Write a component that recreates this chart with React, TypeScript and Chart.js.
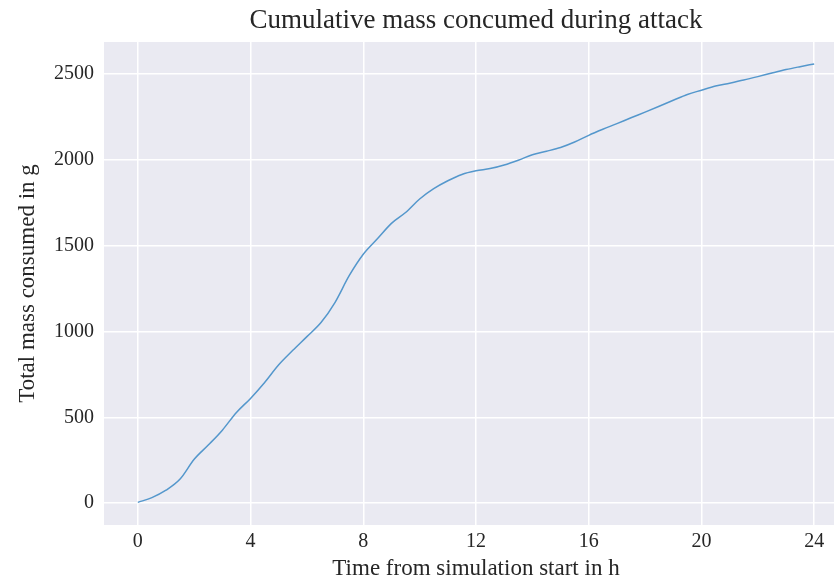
import React, { useEffect, useRef } from "react";
import { Chart, registerables } from "chart.js";

Chart.register(...registerables);

const TITLE = "Cumulative mass concumed during attack";
const X_LABEL = "Time from simulation start in h";
const Y_LABEL = "Total mass consumed in g";

const TIME_H = [
  0, 0.5, 1, 1.5, 2, 2.5, 3, 3.5, 4, 4.5, 5, 5.5, 6, 6.5, 7, 7.5, 8, 8.5, 9, 9.5,
  10, 10.5, 11, 11.5, 12, 12.5, 13, 13.5, 14, 14.5, 15, 15.5, 16, 16.5, 17, 17.5,
  18, 18.5, 19, 19.5, 20, 20.5, 21, 21.5, 22, 22.5, 23, 23.5, 24,
];
const MASS_G = [
  4, 32, 75, 140, 255, 338, 425, 528, 610, 703, 806, 890, 970, 1052, 1170, 1325,
  1450, 1540, 1630, 1693, 1772, 1832, 1878, 1915, 1936, 1949, 1970, 1998, 2030,
  2050, 2072, 2104, 2143, 2178, 2211, 2245, 2278, 2312, 2347, 2381, 2406, 2430,
  2447, 2465, 2485, 2506, 2526, 2543, 2559,
];
const X_TICKS = [0, 4, 8, 12, 16, 20, 24];
const Y_TICKS = [0, 500, 1000, 1500, 2000, 2500];

const FONT = "'Liberation Serif', 'Times New Roman', serif";
const TEXT_COLOR = "#262626";

const plotBg = {
  id: "plotBg",
  beforeDraw(chart: any) {
    const { ctx, chartArea } = chart;
    ctx.save();
    ctx.fillStyle = "#EAEAF2";
    ctx.fillRect(chartArea.left, chartArea.top, chartArea.right - chartArea.left, chartArea.bottom - chartArea.top);
    ctx.restore();
  },
};

export default function App() {
  const ref = useRef<HTMLCanvasElement | null>(null);

  useEffect(() => {
    if (!ref.current) return;
    const xMin = Math.min(...TIME_H);
    const xMax = Math.max(...TIME_H);
    const yMin = Math.min(...MASS_G);
    const yMax = Math.max(...MASS_G);
    const xm = (xMax - xMin) * 0.05;
    const ym = (yMax - yMin) * 0.05;

    const chart = new Chart(ref.current, {
      type: "line",
      data: {
        datasets: [
          {
            data: TIME_H.map((t, i) => ({ x: t, y: MASS_G[i] })),
            borderColor: "#5497cc",
            borderWidth: 1.5,
            pointRadius: 0,
            cubicInterpolationMode: "monotone",
            fill: false,
          },
        ],
      },
      options: {
        animation: false,
        responsive: false,
        devicePixelRatio: 1,
        layout: { padding: { left: 0, right: 0, top: 0, bottom: 0 } },
        plugins: {
          legend: { display: false },
          tooltip: { enabled: false },
          title: {
            display: true,
            text: TITLE,
            fullSize: false,
            color: TEXT_COLOR,
            font: { family: FONT, size: 27, weight: "normal", lineHeight: 1 },
            padding: { top: 7, bottom: 8 },
          },
        },
        scales: {
          x: {
            type: "linear",
            min: xMin - xm,
            max: xMax + xm,
            afterBuildTicks: (s: any) => {
              s.ticks = X_TICKS.map((v) => ({ value: v }));
            },
            afterFit: (s: any) => {
              s.height = 55;
            },
            grid: { color: "#ffffff", lineWidth: 1.5, drawTicks: false },
            border: { display: false },
            ticks: {
              color: TEXT_COLOR,
              padding: 5,
              maxRotation: 0,
              font: { family: FONT, size: 20 },
              callback: (v: any) => String(v),
            },
            title: {
              display: true,
              text: X_LABEL,
              color: TEXT_COLOR,
              font: { family: FONT, size: 23, lineHeight: 1 },
              padding: { top: 0, bottom: 0 },
            },
          },
          y: {
            type: "linear",
            min: yMin - ym - 4,
            max: yMax + ym,
            afterBuildTicks: (s: any) => {
              s.ticks = Y_TICKS.map((v) => ({ value: v }));
            },
            afterFit: (s: any) => {
              s.width = 104;
            },
            grid: { color: "#ffffff", lineWidth: 1.5, drawTicks: false },
            border: { display: false },
            ticks: {
              color: TEXT_COLOR,
              padding: 10,
              font: { family: FONT, size: 20 },
              callback: (v: any) => String(v),
            },
            title: {
              display: true,
              text: Y_LABEL,
              color: TEXT_COLOR,
              font: { family: FONT, size: 23, lineHeight: 1 },
              padding: { top: 16, bottom: 0 },
            },
          },
        },
      },
      plugins: [plotBg],
    });
    return () => chart.destroy();
  }, []);

  return (
    <div
      style={{
        position: "fixed",
        left: 0,
        top: 0,
        width: 834,
        height: 580,
        overflow: "hidden",
        background: "#ffffff",
      }}
    >
      <canvas ref={ref} width={848} height={580} style={{ display: "block" }} />
    </div>
  );
}
